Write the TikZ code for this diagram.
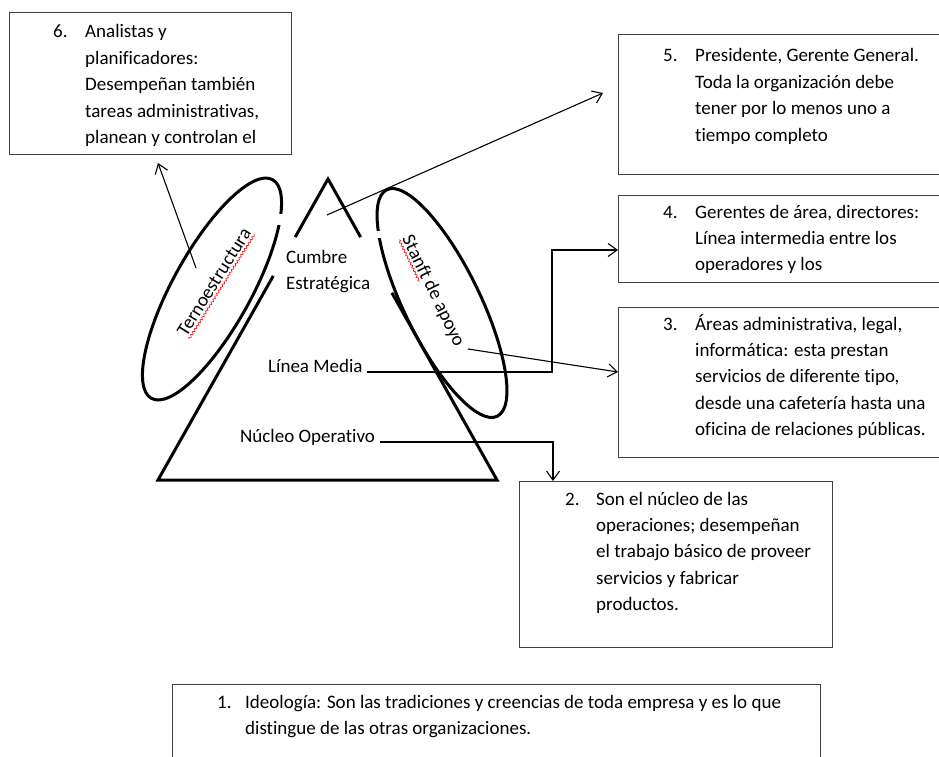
\documentclass[tikz,border=0pt]{standalone}
\usepackage{fontspec}
\setmainfont{Carlito}[Ligatures={NoCommon}]
\usetikzlibrary{arrows.meta,calc,decorations.pathmorphing}
\newcommand\txtlines[1]{\begin{tabular}[t]{@{}l@{}}#1\end{tabular}}
\begin{document}
\begin{tikzpicture}[x=1pt,y=-1pt,
  txt/.style={inner sep=0pt, anchor=base west, font=\fontsize{19}{26.4}\selectfont},
  slanted/.style={inner sep=0pt, font=\fontsize{19}{26.4}\selectfont},
  infobox/.style={draw=black!75, line width=1.3pt, anchor=north west, inner sep=0pt},
  heavy/.style={line width=3pt},
  conn/.style={line width=1.1pt, -{Straight Barb[length=9pt,width=13pt]}},
  squiggle/.style={red, line width=0.6pt, decorate,
    decoration={snake, amplitude=1pt, segment length=3.5pt}},
]
\useasboundingbox (0,0) rectangle (939,757);
\clip (0,0) rectangle (939,757);
\fill[white] (0,0) rectangle (939,757);

% ---- text boxes ----
\node[infobox, minimum width=282, minimum height=142] (b6) at (9,12) {};
\node[infobox, minimum width=340, minimum height=140] (b5) at (618,34) {};
\node[infobox, minimum width=340, minimum height=87]  (b4) at (618,195) {};
\node[infobox, minimum width=340, minimum height=150] (b3) at (618,307) {};
\node[infobox, minimum width=313, minimum height=166] (b2) at (519,481) {};
\node[infobox, minimum width=648, minimum height=100] (b1) at (172,684) {};

\node[txt] (n6) at (53,38) {6.};
\node[txt] (t6) at (85,38) {\txtlines{Analistas y\\planificadores:\\Desempeñan también\\tareas administrativas,\\planean y controlan el}};
\node[txt] (n5) at (663,62) {5.};
\node[txt] (t5) at (695,62) {\txtlines{Presidente, Gerente General.\\Toda la organización debe\\tener por lo menos uno a\\tiempo completo}};
\node[txt] (n4) at (663,218) {4.};
\node[txt] (t4) at (695,218) {\txtlines{Gerentes de área, directores:\\Línea intermedia entre los\\operadores y los}};
\node[txt] (n3) at (663,330) {3.};
\node[txt] (t3) at (695,330) {\txtlines{Áreas administrativa, legal,\\informática: esta prestan\\servicios de diferente tipo,\\desde una cafetería hasta una\\oficina de relaciones públicas.}};
\node[txt] (n2) at (565,505) {2.};
\node[txt] (t2) at (596,505) {\txtlines{Son el núcleo de las\\operaciones; desempeñan\\el trabajo básico de proveer\\servicios y fabricar\\productos.}};
\node[txt] (n1) at (217,708) {1.};
\node[txt] (t1) at (245,708) {\txtlines{Ideología: Son las tradiciones y creencias de toda empresa y es lo que\\distingue de las otras organizaciones.}};

% ---- pyramid ----
\coordinate (apex) at (328,179);
\coordinate (bl) at (158,480);
\coordinate (br) at (497,480);
\draw[heavy] ($(apex)!0.193!(bl)$) -- (apex) -- ($(apex)!0.193!(br)$);
\draw[heavy] ($(apex)!0.322!(bl)$) -- (bl) -- (br) -- ($(apex)!0.378!(br)$);

% ---- side ellipses ----
\draw[heavy] (212,289) ellipse [x radius=125, y radius=39, rotate=61];
\draw[heavy] (442,303) ellipse [x radius=126, y radius=38, rotate=-64];
\fill[white] (276,214) rectangle (288,225);
\fill[white] (372,231) rectangle (383,238);

% ---- labels ----
\node[txt] (cumbre) at (286,263) {\txtlines{Cumbre\\Estratégica}};
\node[txt] (lm) at (268,372) {Línea Media};
\node[txt] (no) at (240,442) {Núcleo Operativo};
\node[slanted, rotate=58] (terno) at (214,282) {Ternoestructura};
\node[slanted, rotate=-64] (stanft) at (433,291) {Stanft de apoyo};
\draw[squiggle] ($(terno.base west)!3pt!-90:(terno.base east)$) -- ($(terno.base east)!3pt!90:(terno.base west)$);
\draw[squiggle] ($(stanft.base west)!3pt!-90:(stanft.base east)$) -- ($($(stanft.base west)!0.38!(stanft.base east)$)!3pt!90:(stanft.base west)$);

% ---- connectors ----
\coordinate (s6) at (196,268);
\coordinate (e6) at (158,163);
\draw[conn] (s6) -- (e6);
\coordinate (s5) at (327,215);
\coordinate (e5) at (603,93);
\draw[conn] (s5) -- (e5);
\coordinate (j4) at (552,250);
\draw[conn] ($(lm.base east)+(4,0)$) -| (j4) -- (b4.west |- j4);
\coordinate (s3) at (468,349);
\draw[conn] (s3) -- (b3.west |- 0,372);
\draw[conn] ($(no.base east)+(5,0)$) -| ($(b2.north west)+(34,0)$);
\end{tikzpicture}
\end{document}
